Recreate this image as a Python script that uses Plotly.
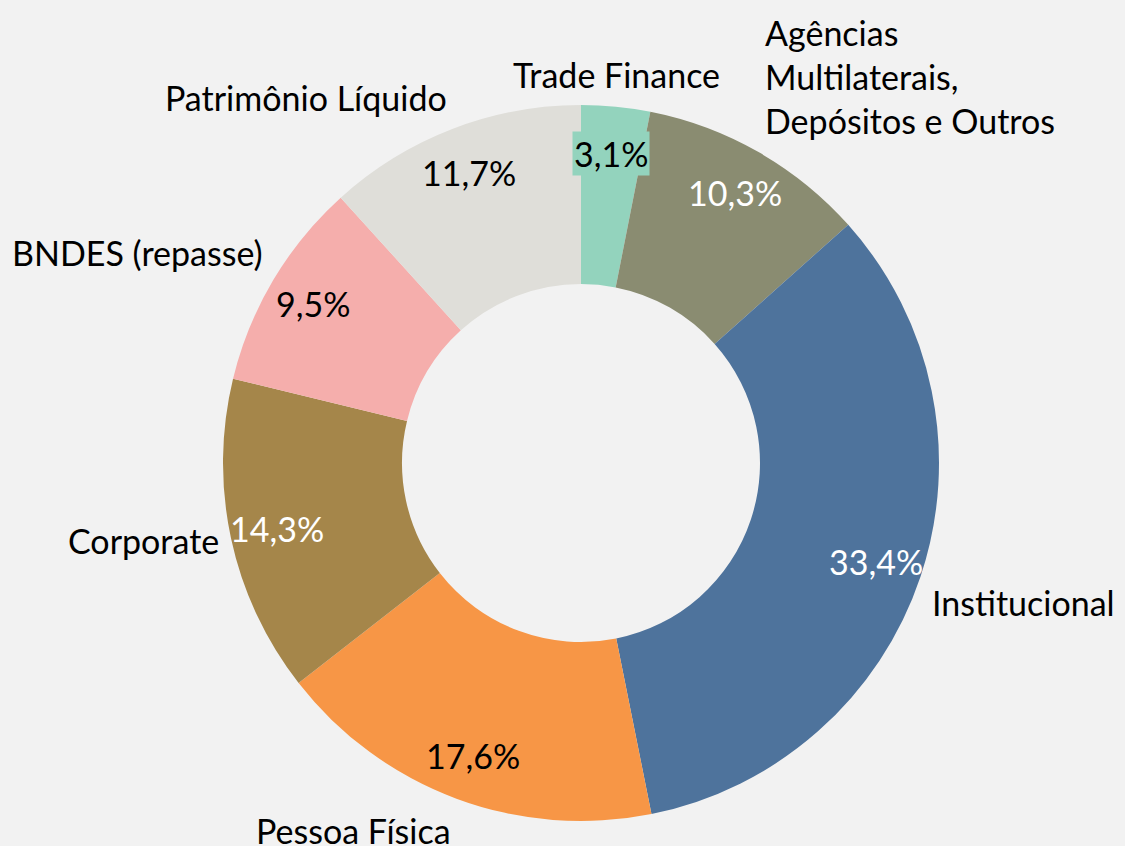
import math
import plotly.graph_objects as go

categories = ["Trade Finance", "Agências<br>Multilaterais,<br>Depósitos e Outros", "Institucional",
              "Pessoa Física", "Corporate", "BNDES (repasse)", "Patrimônio Líquido"]
values = [3.1, 10.3, 33.4, 17.6, 14.3, 9.5, 11.7]
pct_labels = ["3,1%", "10,3%", "33,4%", "17,6%", "14,3%", "9,5%", "11,7%"]
colors = ["#93d3bd", "#8a8c71", "#4e739c", "#f79646", "#a5864a", "#f5aeac", "#dfded9"]
pct_text_colors = ["black", "white", "white", "black", "white", "black", "black"]

W, H = 1125, 846
CX, CY, R = 581, 463, 358
FONT = "Lato"
FS = 34

fig = go.Figure(go.Pie(
    values=values,
    labels=[c.replace("<br>", " ") for c in categories],
    marker=dict(colors=colors, line=dict(width=0)),
    hole=0.5,
    sort=False,
    direction="clockwise",
    rotation=0,
    textinfo="none",
    hoverinfo="label+percent",
    showlegend=False,
    domain=dict(x=[(CX - R) / W, (CX + R) / W], y=[1 - (CY + R) / H, 1 - (CY - R) / H]),
))

total = sum(values)
cum = 0.0
annotations = []
for cat, v, pl, col, tc in zip(categories, values, pct_labels, colors, pct_text_colors):
    mid = (cum + v / 2) / total * 2 * math.pi
    cum += v
    s, c = math.sin(mid), math.cos(mid)
    # percentage label inside ring
    rp = R * 0.87
    px, py = CX + rp * s, CY - rp * c
    annotations.append(dict(
        x=px / W, y=1 - py / H, xref="paper", yref="paper", text=pl, showarrow=False,
        font=dict(family=FONT, size=FS, color=tc),
        bgcolor=col if v < 5 else None, borderpad=1,
        xanchor="center", yanchor="middle"))
    # category label outside
    ro = R + 10
    ox, oy = CX + ro * s, CY - ro * c
    xa = "left" if s > 0.3 else ("right" if s < -0.3 else "center")
    ya = "bottom" if c > 0.3 else ("top" if c < -0.3 else "middle")
    annotations.append(dict(
        x=ox / W, y=1 - oy / H, xref="paper", yref="paper", text=cat, showarrow=False,
        font=dict(family=FONT, size=FS, color="black"), align="left",
        xanchor=xa, yanchor=ya))

fig.update_layout(
    width=W, height=H,
    margin=dict(l=0, r=0, t=0, b=0),
    paper_bgcolor="#f2f2f2",
    plot_bgcolor="#f2f2f2",
    annotations=annotations,
)

fig.write_html("out.html", config={"displayModeBar": False},
               post_script="document.body.style.margin='0';document.body.style.background='#f2f2f2';")
